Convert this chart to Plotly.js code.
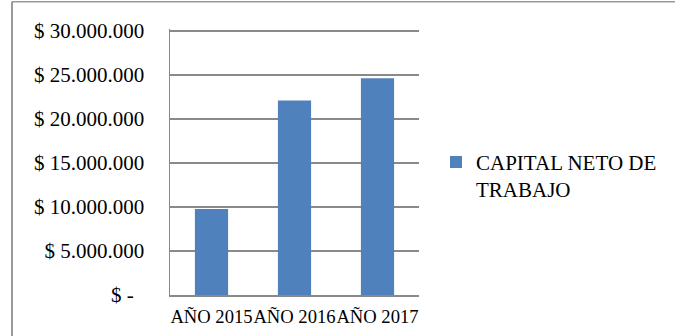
<!DOCTYPE html>
<html>
<head>
<meta charset="utf-8">
<script src="https://cdn.plot.ly/plotly-3.0.1.min.js"></script>
<style>
html,body{margin:0;padding:0;background:#fff;}
#chart{width:675px;height:336px;}
</style>
</head>
<body>
<div id="chart"></div>
<script>
const categories = ["AÑO 2015", "AÑO 2016", "AÑO 2017"];
const seriesName = "CAPITAL NETO DE<br>TRABAJO";
const capitalNeto = [9770000, 22080000, 24620000];
const yTickVals = [0, 5000000, 10000000, 15000000, 20000000, 25000000, 30000000];
const yTickText = ["$ -\u00a0\u00a0", "$ 5.000.000", "$ 10.000.000", "$ 15.000.000", "$ 20.000.000", "$ 25.000.000", "$ 30.000.000"];

const font = "Liberation Serif";
const W = 675, H = 336;
const yMax = 30200000;
const L = 170, R = 419, B = 295;
const T = B - 264 * yMax / 30000000;
const px2x = p => (p - L) / (R - L);
const px2y = p => (B - p) / (B - T);

const trace = {
  type: "bar",
  x: categories,
  y: capitalNeto,
  name: seriesName,
  marker: {color: "#4f81bd"},
  width: 0.4,
  showlegend: true
};

const layout = {
  width: W, height: H,
  margin: {l: L, r: W - R, t: T, b: H - B, pad: 0},
  paper_bgcolor: "#fff",
  plot_bgcolor: "#fff",
  font: {family: font, size: 21, color: "#000"},
  showlegend: true,
  legend: {
    x: px2x(436), xanchor: "left",
    y: px2y(142), yanchor: "top",
    valign: "top",
    font: {family: font, size: 21, color: "#000"},
    bgcolor: "rgba(0,0,0,0)"
  },
  xaxis: {
    type: "category",
    showgrid: false,
    showline: true, linecolor: "#898989", linewidth: 1.5,
    ticks: "", ticklabelstandoff: 4, tickangle: 0,
    tickfont: {family: font, size: 18.6, color: "#000"},
    fixedrange: true
  },
  yaxis: {
    range: [0, yMax],
    tickvals: yTickVals, ticktext: yTickText,
    showgrid: true, gridcolor: "#898989", gridwidth: 1.5,
    showline: true, linecolor: "#898989", linewidth: 1.5,
    zeroline: false,
    ticks: "", ticklabelstandoff: 20,
    tickfont: {family: font, size: 21, color: "#000"},
    fixedrange: true
  },
  shapes: [
    {type: "line", xref: "paper", yref: "paper",
     x0: px2x(12), x1: px2x(12), y0: px2y(2), y1: px2y(340),
     line: {color: "#999", width: 2}},
    {type: "line", xref: "paper", yref: "paper",
     x0: px2x(12), x1: px2x(680), y0: px2y(2), y1: px2y(2),
     line: {color: "#999", width: 1.5}}
  ]
};

Plotly.newPlot("chart", [trace], layout, {displayModeBar: false, staticPlot: true});
</script>
</body>
</html>
